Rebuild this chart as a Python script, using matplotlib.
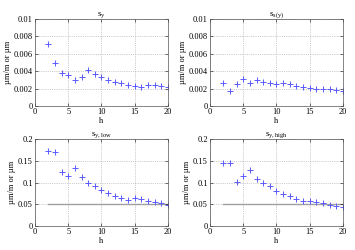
import numpy as np
import matplotlib
matplotlib.use("Agg")
import matplotlib.pyplot as plt

# data
h = np.arange(2, 21)
s_y = [0.0071, 0.0049, 0.0038, 0.0036, 0.0030, 0.0033, 0.0041, 0.0037, 0.0033, 0.0030,
       0.0028, 0.0026, 0.0024, 0.0023, 0.0022, 0.0024, 0.0024, 0.0023, 0.0022]
s_sy = [0.0027, 0.0017, 0.0025, 0.0031, 0.0026, 0.0030, 0.0028, 0.0027, 0.0025, 0.0026,
        0.0025, 0.0023, 0.0022, 0.0021, 0.0020, 0.0019, 0.0019, 0.0018, 0.0017]
s_y_low = [0.173, 0.170, 0.123, 0.115, 0.133, 0.112, 0.098, 0.092, 0.082, 0.075,
           0.070, 0.065, 0.060, 0.064, 0.061, 0.058, 0.055, 0.052, 0.049]
s_y_high = [0.145, 0.144, 0.102, 0.114, 0.129, 0.109, 0.098, 0.091, 0.081, 0.074,
            0.068, 0.062, 0.058, 0.058, 0.055, 0.052, 0.049, 0.047, 0.044]
limit = 0.05

titles = [r"$\mathregular{s_y}$", r"$\mathregular{s_{s(y)}}$",
          r"$\mathregular{s_{y,low}}$", r"$\mathregular{s_{y,high}}$"]
series = [s_y, s_sy, s_y_low, s_y_high]

plt.rcParams['font.family'] = ['Liberation Serif', 'DejaVu Serif']
plt.rcParams['mathtext.fontset'] = 'custom'
plt.rcParams['mathtext.rm'] = 'Liberation Serif'
fs = 6

fig = plt.figure(figsize=(3.55, 2.5), dpi=100)
lefts = [0.0986, 0.5915]
bottoms = [0.576, 0.096]
w = 0.3746
ht = 0.348

for i in range(4):
    r, c = divmod(i, 2)
    ax = fig.add_axes([lefts[c], bottoms[r], w, ht])
    ax.plot(h, series[i], '+', color='#5a5aff', ms=4, mew=0.7)
    if r == 1:
        ax.plot([h[0], h[-1]], [limit, limit], color='#a0a0a0', lw=1.0, zorder=1)
        ax.set_ylim(0, 0.2)
        ax.set_yticks([0, 0.05, 0.1, 0.15, 0.2])
        ax.set_yticklabels(['0', '0.05', '0.1', '0.15', '0.2'])
    else:
        ax.set_ylim(0, 0.01)
        ax.set_yticks([0, 0.002, 0.004, 0.006, 0.008, 0.01])
        ax.set_yticklabels(['0', '0.002', '0.004', '0.006', '0.008', '0.01'])
    ax.set_xlim(0, 20)
    ax.set_xticks([0, 5, 10, 15, 20])
    ax.grid(True, linestyle=':', color='#a0a0a0', lw=0.5)
    ax.tick_params(direction='in', length=2, width=0.4, labelsize=fs, pad=1.5,
                   top=True, right=True)
    for sp in ax.spines.values():
        sp.set_linewidth(0.5)
        sp.set_color('#555555')
    ax.set_title(titles[i], fontsize=6.5, pad=2)
    ax.set_xlabel('h', fontsize=fs, labelpad=0.5)
    ax.set_ylabel('\u00b5m/m or \u00b5m', fontsize=fs, labelpad=1.5)

fig.savefig('out.png', dpi=100)
